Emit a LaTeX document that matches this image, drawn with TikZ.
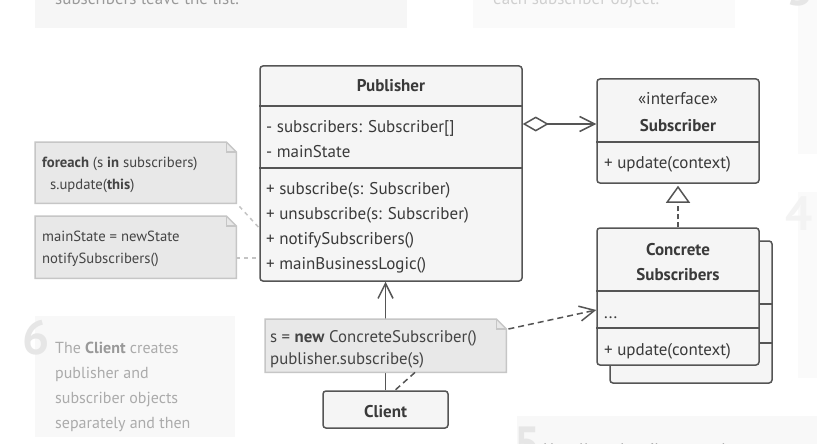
\documentclass[tikz,border=0pt]{standalone}
\usepackage{fontspec}
\setmainfont{PT Sans}
\usetikzlibrary{arrows.meta}
\definecolor{boxline}{HTML}{555555}
\definecolor{boxfill}{HTML}{F5F5F5}
\definecolor{txt}{HTML}{3A3A3A}
\definecolor{notefill}{HTML}{E8E8E8}
\definecolor{noteline}{HTML}{C6C6C6}
\definecolor{notetxt}{HTML}{444444}
\definecolor{graydash}{HTML}{C4C4C4}
\definecolor{panelA}{HTML}{F6F6F6}
\definecolor{panelB}{HTML}{FAFAFA}
\definecolor{panelC}{HTML}{F8F8F8}
\definecolor{digit}{HTML}{E6E6E6}
\definecolor{ptxtA}{HTML}{999999}
\definecolor{ptxtB}{HTML}{CFCFCF}
\definecolor{ptxtC}{HTML}{ABABAB}
\newcommand{\drawnote}[1]{%
  \draw[noteshape] (#1.north west) -- ([xshift=-10pt]#1.north east) -- ([yshift=-10pt]#1.north east) -- (#1.south east) -- (#1.south west) -- cycle;
  \draw[noteshape, fill=none] ([xshift=-10pt]#1.north east) |- ([yshift=-10pt]#1.north east);}
\tikzset{
  cbox/.style={draw=boxline, fill=boxfill, line width=1.5pt, rounded corners=3pt, inner sep=0pt},
  divline/.style={draw=boxline, line width=1.5pt},
  btxt/.style={font=\fontsize{17}{20}\selectfont\bfseries, text=txt, inner sep=0pt, anchor=base},
  ctxt/.style={font=\fontsize{17}{20}\selectfont, text=txt, inner sep=0pt, anchor=base},
  mtxt/.style={font=\fontsize{17}{20}\selectfont, text=txt, inner sep=0pt, anchor=base west},
  ntxt/.style={font=\fontsize{14.7}{18}\selectfont, text=notetxt, inner sep=0pt, anchor=base west},
  cntxt/.style={font=\fontsize{16.8}{20}\selectfont, text=notetxt, inner sep=0pt, anchor=base west},
  notebox/.style={inner sep=0pt, anchor=north west},
  noteshape/.style={draw=noteline, fill=notefill, line width=1.5pt, line join=miter},
  lightdash/.style={draw=graydash, line width=1.5pt, dash pattern=on 4pt off 4pt},
  darkdash/.style={draw=boxline, line width=1.5pt, dash pattern=on 6pt off 4pt},
  assoc/.style={draw=boxline, line width=1.5pt},
  openarrow/.tip={Straight Barb[length=15pt, width=15pt, line width=1.5pt]},
  ptext/.style={font=\fontsize{17}{20}\selectfont, inner sep=0pt, anchor=base west},
  p6text/.style={font=\fontsize{16}{20}\selectfont, text=ptxtC, inner sep=0pt, anchor=base west},
  pdigit/.style={font=\fontsize{48}{50}\selectfont\bfseries, text=digit, inner sep=0pt, anchor=base west},
}
\begin{document}
\begin{tikzpicture}[x=1pt,y=-1pt]
\clip (0,0) rectangle (817,444);
\fill[white] (0,0) rectangle (817,444);
% ---------- background panels ----------
\fill[panelA] (35,-10) rectangle (407,28);
\node[ptext, text=ptxtA] (pA) at (55,5) {subscribers leave the list.};
\fill[panelB] (473,-10) rectangle (735,28);
\node[ptext, text=ptxtB] (pB) at (493,5) {each subscriber object.};
\fill[panelB] (798,-10) rectangle (817,154);
\node[pdigit] (d3) at (786,6) {3};
\fill[panelB] (798,192) rectangle (817,378);
\node[pdigit, text=panelA!80!digit] (d4) at (785,230) {4};
\fill[panelC] (517,416) rectangle (817,450);
\node[pdigit] (d5) at (513,460) {5};
\node[ptext, text=ptxtC] (pD) at (543,455) {Usually, subscribers need some contextual information};
\begin{scope}
  \clip (0,316) rectangle (235,437);
  \fill[panelC] (35,316) rectangle (235,437);
  \node[pdigit] (d6) at (22,354) {6};
  \node[p6text] (p6a) at (55,353) {The \textbf{\color{ptxtA}Client} creates};
  \node[p6text] (p6b) at (55,378) {publisher and};
  \node[p6text] (p6c) at (55,403) {subscriber objects};
  \node[p6text] (p6d) at (55,428) {separately and then};
  \node[p6text] (p6e) at (55,451) {register subscribers};
\end{scope}
% ---------- Publisher ----------
\node[cbox, minimum width=262pt, minimum height=215pt] (pub) at (391,173.5) {};
\draw[divline] (pub.west |- 0,106) -- (pub.east |- 0,106);
\draw[divline] (pub.west |- 0,168) -- (pub.east |- 0,168);
\node[btxt] (pubT) at (391,92) {Publisher};
\node[mtxt] (pf1) at (266,132) {- subscribers: Subscriber[]};
\node[mtxt] (pf2) at (266,157) {- mainState};
\node[mtxt] (pm1) at (266,194) {+ subscribe(s: Subscriber)};
\node[mtxt] (pm2) at (266,219) {+ unsubscribe(s: Subscriber)};
\node[mtxt] (pm3) at (266,244) {+ notifySubscribers()};
\node[mtxt] (pm4) at (266,269) {+ mainBusinessLogic()};
% ---------- Subscriber interface ----------
\node[cbox, minimum width=162pt, minimum height=104pt] (sub) at (678,131) {};
\draw[divline] (sub.west |- 0,142) -- (sub.east |- 0,142);
\node[ctxt] (subI) at (678,105) {«interface»};
\node[btxt] (subT) at (678,131) {Subscriber};
\node[mtxt] (subM) at (604,168) {+ update(context)};
% ---------- Concrete Subscribers ----------
\node[cbox, minimum width=162pt, minimum height=142pt] (csb) at (691,312) {};
\draw[divline] (csb.west |- 0,304) -- (csb.east |- 0,304);
\draw[divline] (csb.west |- 0,343) -- (csb.east |- 0,343);
\node[cbox, minimum width=162pt, minimum height=137pt] (cs) at (678,296.5) {};
\draw[divline] (cs.west |- 0,291) -- (cs.east |- 0,291);
\draw[divline] (cs.west |- 0,328) -- (cs.east |- 0,328);
\node[btxt] (csT1) at (678,255) {Concrete};
\node[btxt] (csT2) at (678,280) {Subscribers};
\node[mtxt] (csF) at (604,318) {...};
\node[mtxt] (csM) at (604,355) {+ update(context)};
% ---------- relations between classes ----------
\draw[assoc, {Diamond[open, length=26pt, width=15pt, line width=1.5pt]}-{openarrow}] (pub.east |- 0,124) -- (sub.west |- 0,124);
\draw[darkdash, dash pattern=on 5pt off 3pt, -{Triangle[open, length=17pt, width=24pt, line width=1.5pt]}, shorten >=2pt] (cs.north) -- (sub.south);
% ---------- Client ----------
\node[cbox, minimum width=125pt, minimum height=37pt] (cli) at (385.5,409.5) {};
\node[btxt] (cliT) at (385.5,417) {Client};
\draw[assoc, -{openarrow}] (cli.north) -- (pub.south -| cli.north);
% ---------- notes ----------
\node[notebox, minimum width=201pt, minimum height=61pt] (n1) at (35,142) {};
\drawnote{n1}
\node[ntxt] (n1a) at (42,167) {\textbf{foreach} (s \textbf{in} subscribers)};
\node[ntxt] (n1b) at (50,189) {s.update(\textbf{this})};
\node[notebox, minimum width=201pt, minimum height=62pt] (n2) at (35,216) {};
\drawnote{n2}
\node[ntxt] (n2a) at (42,241) {mainState = newState};
\node[ntxt] (n2b) at (42,263) {notifySubscribers()};
\coordinate (p1) at (pub.west |- 0,228);
\draw[lightdash] ([shift={(3pt,-3pt)}]n1.south east) -- (p1);
\draw[lightdash] (n2.east |- 0,258) -- (pub.west |- 0,258);
\node[notebox, minimum width=241pt, minimum height=53pt] (cn) at (265,319) {};
\drawnote{cn}
\node[cntxt] (cna) at (270,342) {s = \textbf{new} ConcreteSubscriber()};
\node[cntxt] (cnb) at (270,364) {publisher.subscribe(s)};
\draw[darkdash, -{openarrow}] ([shift={(2pt,-10pt)}]cn.north east) -- (cs.west |- 0,310);
\draw[darkdash] (cn.south -| 415,0) -- (cli.north -| 395,0);
\end{tikzpicture}
\end{document}
